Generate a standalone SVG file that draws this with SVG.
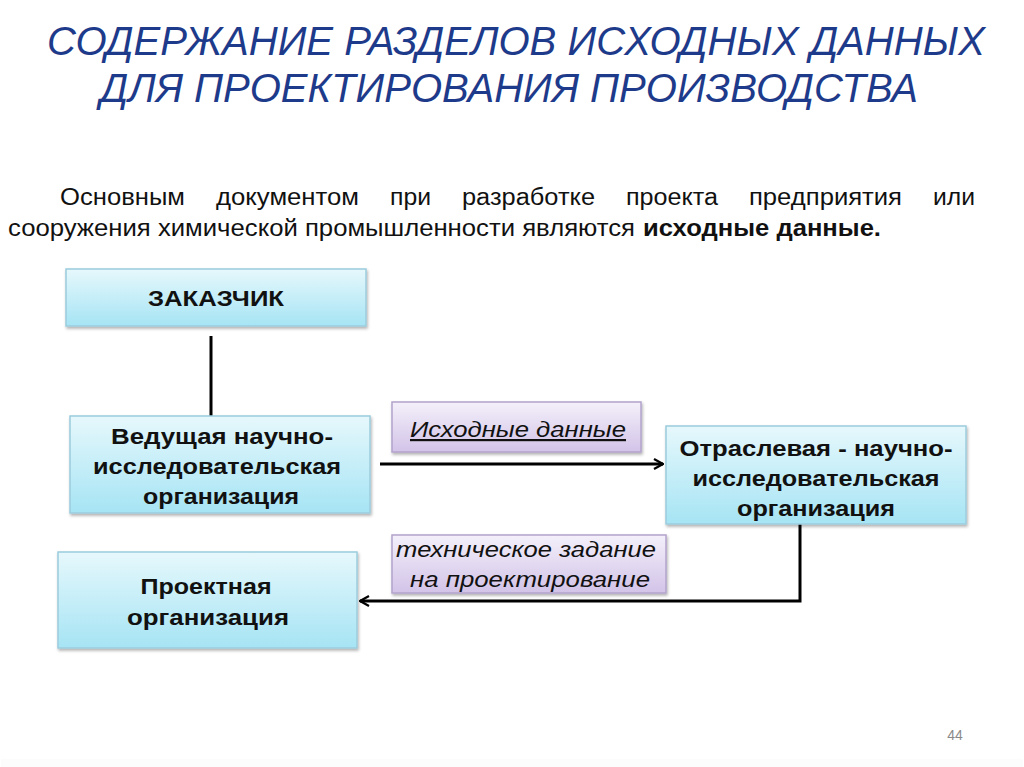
<svg xmlns="http://www.w3.org/2000/svg" width="1024" height="767" viewBox="0 0 1024 767">
<defs>
<linearGradient id="gBlue" x1="0" y1="0" x2="0" y2="1">
<stop offset="0" stop-color="#E6F8FC"/>
<stop offset="1" stop-color="#A6E4F4"/>
</linearGradient>
<linearGradient id="gLav" x1="0" y1="0" x2="0" y2="1">
<stop offset="0" stop-color="#F4F0FA"/>
<stop offset="1" stop-color="#D2C3E8"/>
</linearGradient>
<filter id="sh" x="-10%" y="-10%" width="120%" height="130%">
<feDropShadow dx="1" dy="2" stdDeviation="1.5" flood-color="#000" flood-opacity="0.3"/>
</filter>
<marker id="arr" viewBox="0 0 12 12" refX="11" refY="6" markerWidth="12" markerHeight="12" markerUnits="userSpaceOnUse" orient="auto">
<path d="M2,1 L11,6 L2,11" fill="none" stroke="#000" stroke-width="2.2"/>
</marker>
<style>
.title{font-family:"Liberation Sans",Arial,sans-serif;font-style:italic;font-size:41px;fill:#1E3A8A}
.body{font-family:"Liberation Sans",Arial,sans-serif;font-size:23px;fill:#111}
.bx{fill:url(#gBlue);stroke:#9CCCDD;stroke-width:1.5;filter:url(#sh)}
.lv{fill:url(#gLav);stroke:#B3A3CC;stroke-width:1.5;filter:url(#sh)}
.nt{font-family:"Liberation Sans",Arial,sans-serif;font-weight:bold;font-size:22px;fill:#111;text-anchor:middle}
.lt{font-family:"Liberation Sans",Arial,sans-serif;font-style:italic;font-size:22px;fill:#111;text-anchor:middle}
.cn{fill:none;stroke:#000;stroke-width:3}
</style>
</defs>
<rect width="1024" height="767" fill="#FFFFFF"/>
<rect x="1" y="759" width="1022" height="8" fill="#FCFCFC"/>
<text class="title" x="516" y="55" text-anchor="middle" textLength="938" lengthAdjust="spacingAndGlyphs">СОДЕРЖАНИЕ РАЗДЕЛОВ ИСХОДНЫХ ДАННЫХ</text>
<text class="title" x="509" y="102" text-anchor="middle" textLength="818" lengthAdjust="spacingAndGlyphs">ДЛЯ ПРОЕКТИРОВАНИЯ ПРОИЗВОДСТВА</text>
<g class="body">
<text x="60" y="205" textLength="125" lengthAdjust="spacingAndGlyphs">Основным</text>
<text x="216" y="205" textLength="143" lengthAdjust="spacingAndGlyphs">документом</text>
<text x="390" y="205" textLength="41" lengthAdjust="spacingAndGlyphs">при</text>
<text x="462" y="205" textLength="133" lengthAdjust="spacingAndGlyphs">разработке</text>
<text x="626" y="205" textLength="92" lengthAdjust="spacingAndGlyphs">проекта</text>
<text x="749" y="205" textLength="153" lengthAdjust="spacingAndGlyphs">предприятия</text>
<text x="933" y="205" textLength="42" lengthAdjust="spacingAndGlyphs">или</text>
<text x="8" y="236" textLength="627" lengthAdjust="spacingAndGlyphs">сооружения химической промышленности являются</text>
<text x="643" y="236" font-weight="bold" textLength="238" lengthAdjust="spacingAndGlyphs">исходные данные.</text>
</g>
<g id="connectors">
<line class="cn" x1="211" y1="336" x2="211" y2="416"/>
<line class="cn" x1="380" y1="464" x2="663" y2="464" marker-end="url(#arr)"/>
<polyline class="cn" points="800,524 800,601 360,601" marker-end="url(#arr)"/>
</g>
<g id="zakazchik">
<rect class="bx" x="66" y="269" width="300" height="57"/>
<text class="nt" x="216" y="306" textLength="136" lengthAdjust="spacingAndGlyphs">ЗАКАЗЧИК</text>
</g>
<g id="vedushaya">
<rect class="bx" x="70" y="416" width="300" height="97"/>
<text class="nt" x="222" y="444" textLength="222" lengthAdjust="spacingAndGlyphs">Ведущая научно-</text>
<text class="nt" x="217" y="474" textLength="248" lengthAdjust="spacingAndGlyphs">исследовательская</text>
<text class="nt" x="221" y="504" textLength="156" lengthAdjust="spacingAndGlyphs">организация</text>
</g>
<g id="ishodnye">
<rect class="lv" x="392" y="402" width="249" height="50"/>
<text class="lt" x="518" y="437" text-decoration="underline" textLength="216" lengthAdjust="spacingAndGlyphs">Исходные данные</text>
</g>
<g id="otraslevaya">
<rect class="bx" x="666" y="426" width="300" height="98"/>
<text class="nt" x="816" y="456" textLength="273" lengthAdjust="spacingAndGlyphs">Отраслевая - научно-</text>
<text class="nt" x="816" y="486" textLength="247" lengthAdjust="spacingAndGlyphs">исследовательская</text>
<text class="nt" x="816" y="516" textLength="158" lengthAdjust="spacingAndGlyphs">организация</text>
</g>
<g id="tz">
<rect class="lv" x="392" y="535" width="274" height="58"/>
<text class="lt" x="526" y="557" textLength="260" lengthAdjust="spacingAndGlyphs">техническое задание</text>
<text class="lt" x="530" y="587" textLength="240" lengthAdjust="spacingAndGlyphs">на проектирование</text>
</g>
<g id="proektnaya">
<rect class="bx" x="58" y="552" width="299" height="96"/>
<text class="nt" x="206" y="594" textLength="131" lengthAdjust="spacingAndGlyphs">Проектная</text>
<text class="nt" x="208" y="625" textLength="162" lengthAdjust="spacingAndGlyphs">организация</text>
</g>
<text x="955" y="740" text-anchor="middle" font-family="Liberation Sans,Arial,sans-serif" font-size="14" fill="#8A8A8A">44</text>
</svg>
